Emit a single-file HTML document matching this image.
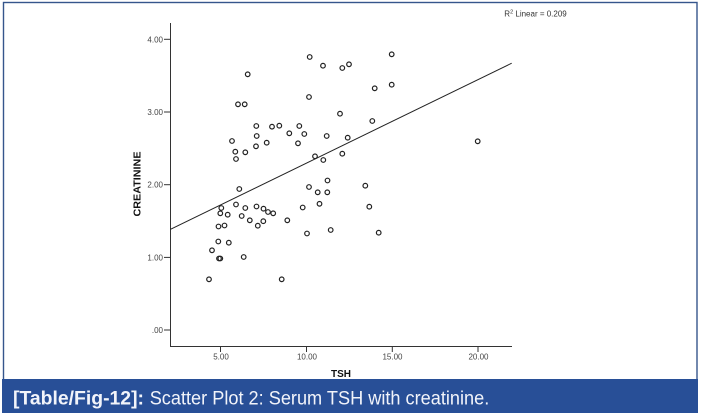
<!DOCTYPE html>
<html>
<head>
<meta charset="utf-8">
<style>
  html,body{margin:0;padding:0;background:#fff;}
  body{width:701px;height:416px;overflow:hidden;}
  svg{display:block;}
</style>
</head>
<body>
<svg width="701" height="416" viewBox="0 0 701 416" xmlns="http://www.w3.org/2000/svg">
  <rect x="0" y="0" width="701" height="416" fill="#ffffff"/>
  <rect x="3.5" y="2.5" width="693.5" height="400" fill="none" stroke="#35558c" stroke-width="1.4"/>
  <rect x="2" y="379" width="696" height="34" fill="#284f97"/>
  <text x="13" y="404.3" font-family="Liberation Sans, sans-serif" font-weight="bold" font-size="19" fill="#f2f4fa" textLength="131" lengthAdjust="spacingAndGlyphs">[Table/Fig-12]:</text>
  <text x="149.7" y="404.3" font-family="Liberation Sans, sans-serif" font-size="19" fill="#f2f4fa" textLength="339.6" lengthAdjust="spacingAndGlyphs">Scatter Plot 2: Serum TSH with creatinine.</text>

  <text x="504.3" y="16.5" font-family="Liberation Sans, sans-serif" font-size="8" fill="#333">R<tspan font-size="5.5" dy="-3">2</tspan><tspan dy="3"> Linear = 0.209</tspan></text>

  <g stroke="#333" stroke-width="1" fill="none">
    <line x1="170.5" y1="23" x2="170.5" y2="346.5"/>
    <line x1="170" y1="346.5" x2="512" y2="346.5"/>
    <line x1="164" y1="39.3" x2="170.5" y2="39.3"/>
    <line x1="164" y1="112" x2="170.5" y2="112"/>
    <line x1="164" y1="184.7" x2="170.5" y2="184.7"/>
    <line x1="164" y1="257.4" x2="170.5" y2="257.4"/>
    <line x1="164" y1="330" x2="170.5" y2="330"/>
    <line x1="220.5" y1="346.5" x2="220.5" y2="352"/>
    <line x1="306.5" y1="346.5" x2="306.5" y2="352"/>
    <line x1="392.3" y1="346.5" x2="392.3" y2="352"/>
    <line x1="478" y1="346.5" x2="478" y2="352"/>
  </g>

  <g font-family="Liberation Sans, sans-serif" font-size="8" fill="#444" text-anchor="end">
    <text x="163" y="42.3">4.00</text>
    <text x="163" y="115">3.00</text>
    <text x="163" y="187.7">2.00</text>
    <text x="163" y="260.4">1.00</text>
    <text x="163" y="333">.00</text>
  </g>
  <g font-family="Liberation Sans, sans-serif" font-size="8" fill="#444" text-anchor="middle">
    <text x="221" y="359.5">5.00</text>
    <text x="307" y="359.5">10.00</text>
    <text x="392.5" y="359.5">15.00</text>
    <text x="478.5" y="359.5">20.00</text>
  </g>

  <text x="341" y="377" font-family="Liberation Sans, sans-serif" font-weight="bold" font-size="10" fill="#111" text-anchor="middle">TSH</text>
  <text transform="translate(140.5,184) rotate(-90)" x="0" y="0" font-family="Liberation Sans, sans-serif" font-weight="bold" font-size="10.5" fill="#111" text-anchor="middle" textLength="65" lengthAdjust="spacingAndGlyphs">CREATININE</text>

  <line x1="170.5" y1="229.3" x2="511.7" y2="63.2" stroke="#222" stroke-width="1"/>

  <g fill="none" stroke="#222" stroke-width="1.2">
    <circle cx="309.7" cy="57" r="2.3"/>
    <circle cx="323" cy="65.7" r="2.3"/>
    <circle cx="342.3" cy="68" r="2.3"/>
    <circle cx="349" cy="64.3" r="2.3"/>
    <circle cx="391.7" cy="54.3" r="2.3"/>
    <circle cx="247.7" cy="74.3" r="2.3"/>
    <circle cx="238" cy="104.3" r="2.3"/>
    <circle cx="244.7" cy="104.3" r="2.3"/>
    <circle cx="309" cy="97" r="2.3"/>
    <circle cx="374.7" cy="88.3" r="2.3"/>
    <circle cx="391.7" cy="84.7" r="2.3"/>
    <circle cx="340" cy="113.7" r="2.3"/>
    <circle cx="372.3" cy="121" r="2.3"/>
    <circle cx="256.3" cy="126" r="2.3"/>
    <circle cx="272" cy="126.7" r="2.3"/>
    <circle cx="279.3" cy="125.7" r="2.3"/>
    <circle cx="299.3" cy="126" r="2.3"/>
    <circle cx="289.3" cy="133.3" r="2.3"/>
    <circle cx="304.3" cy="134" r="2.3"/>
    <circle cx="232" cy="141" r="2.3"/>
    <circle cx="256.7" cy="136" r="2.3"/>
    <circle cx="326.7" cy="136" r="2.3"/>
    <circle cx="347.7" cy="137.7" r="2.3"/>
    <circle cx="266.7" cy="142.7" r="2.3"/>
    <circle cx="298" cy="143.3" r="2.3"/>
    <circle cx="235.3" cy="151.7" r="2.3"/>
    <circle cx="245.3" cy="152.3" r="2.3"/>
    <circle cx="256" cy="146.3" r="2.3"/>
    <circle cx="236" cy="159" r="2.3"/>
    <circle cx="315" cy="156.3" r="2.3"/>
    <circle cx="323.3" cy="160" r="2.3"/>
    <circle cx="342.3" cy="153.7" r="2.3"/>
    <circle cx="477.7" cy="141.3" r="2.3"/>
    <circle cx="327.5" cy="180.5" r="2.3"/>
    <circle cx="239.3" cy="189" r="2.3"/>
    <circle cx="309" cy="187" r="2.3"/>
    <circle cx="317.7" cy="192.3" r="2.3"/>
    <circle cx="327.3" cy="192.3" r="2.3"/>
    <circle cx="365.3" cy="185.7" r="2.3"/>
    <circle cx="221.3" cy="208" r="2.3"/>
    <circle cx="220.3" cy="213.3" r="2.3"/>
    <circle cx="227.7" cy="214.7" r="2.3"/>
    <circle cx="236" cy="204.5" r="2.3"/>
    <circle cx="245.3" cy="208" r="2.3"/>
    <circle cx="241.7" cy="216" r="2.3"/>
    <circle cx="249.8" cy="220.3" r="2.3"/>
    <circle cx="256.5" cy="206.5" r="2.3"/>
    <circle cx="263.5" cy="208.7" r="2.3"/>
    <circle cx="268" cy="212" r="2.3"/>
    <circle cx="273.2" cy="213.3" r="2.3"/>
    <circle cx="257.8" cy="225.7" r="2.3"/>
    <circle cx="263.3" cy="221.2" r="2.3"/>
    <circle cx="287.3" cy="220.3" r="2.3"/>
    <circle cx="302.7" cy="207.5" r="2.3"/>
    <circle cx="319.5" cy="203.8" r="2.3"/>
    <circle cx="369.3" cy="206.7" r="2.3"/>
    <circle cx="307" cy="233.5" r="2.3"/>
    <circle cx="330.7" cy="230" r="2.3"/>
    <circle cx="378.7" cy="232.7" r="2.3"/>
    <circle cx="218.5" cy="226.5" r="2.3"/>
    <circle cx="224.5" cy="225.5" r="2.3"/>
    <circle cx="218.3" cy="241.5" r="2.3"/>
    <circle cx="228.8" cy="242.7" r="2.3"/>
    <circle cx="212" cy="250.3" r="2.3"/>
    <circle cx="219" cy="258.5" r="2.3"/>
    <circle cx="220.3" cy="258.5" r="2.3"/>
    <circle cx="243.7" cy="257" r="2.3"/>
    <circle cx="209" cy="279.3" r="2.3"/>
    <circle cx="281.7" cy="279.3" r="2.3"/>
  </g>
</svg>
</body>
</html>
